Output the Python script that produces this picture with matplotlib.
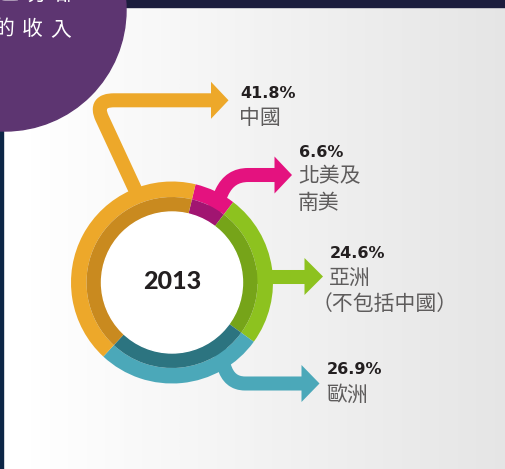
import matplotlib
matplotlib.use("Agg")
import matplotlib.pyplot as plt
import numpy as np
from matplotlib.path import Path
from matplotlib.patches import PathPatch, Polygon, Circle, Rectangle

W, H = 505, 469

# data
year = "2013"
shares = [6.6, 24.6, 26.9, 41.8]
regions = ["北美及\n南美", "亞洲\n（不包括中國）", "歐洲", "中國"]
outer_colors = ["#E4127F", "#8DC21F", "#4BA8B9", "#EDA82A"]
inner_colors = ["#A11571", "#76A419", "#2C7480", "#C98A1F"]
title_lines = ["區分部", "的收入"]

CJK = ["Noto Sans CJK TC", "DejaVu Sans"]
CX, CY = 172, 282.5


def P(x, y):
    # pixel coords (top-left origin) -> data coords
    return (x, H - y)


fig = plt.figure(figsize=(W / 100, H / 100), dpi=100)
ax = fig.add_axes([0, 0, 1, 1])

# background panel: white on the left fading to light grey
grad = np.linspace(0, 1, 256)
grad = np.clip((grad - 0.06) / 0.94, 0, 1)
bg = np.ones((2, 256, 3)) * (1 - 0.10 * grad)[None, :, None]
ax.imshow(bg, extent=(0, W, 0, H), aspect="auto", zorder=-2)
ax.add_patch(Rectangle((0, H - 7), W, 7, color="#1b1d3d", zorder=-1))
ax.add_patch(Rectangle((0, 0), 3, H, color="#0c2646", zorder=-1))

# arrows (shaft paths + heads), drawn under the ring
arrow_shafts = [
    [P(214, 210), P(222, 192), P(230, 175), P(248, 175), P(275, 175)],
    [P(255, 276.5), P(305, 276.5)],
    [P(220, 350), P(224, 366), P(229, 383.5), P(245, 383.5), P(302, 383.5)],
    [P(140, 200), P(102, 118), P(94, 100.3), P(114, 100.3), P(212, 100.3)],
]
shaft_codes = [
    [Path.MOVETO, Path.LINETO, Path.CURVE3, Path.CURVE3, Path.LINETO],
    [Path.MOVETO, Path.LINETO],
    [Path.MOVETO, Path.LINETO, Path.CURVE3, Path.CURVE3, Path.LINETO],
    [Path.MOVETO, Path.LINETO, Path.CURVE3, Path.CURVE3, Path.LINETO],
]
heads = [(275, 292, 175), (305, 323, 276.5), (302, 319.5, 383.5), (211.5, 228.5, 100.3)]
for verts, codes, (hx0, hx1, hy), col in zip(arrow_shafts, shaft_codes, heads, outer_colors):
    ax.add_patch(PathPatch(Path(verts, codes), facecolor="none", edgecolor=col,
                           lw=10.1, capstyle="butt", joinstyle="round", zorder=0))
    ax.add_patch(Polygon([P(hx0 - 0.5, hy - 18.5), P(hx1, hy), P(hx0 - 0.5, hy + 18.5)],
                         closed=True, facecolor=col, edgecolor="none", zorder=0))

# the two-tone ring
ax.pie(shares, colors=outer_colors, radius=101, center=P(CX, CY), startangle=76.5,
       counterclock=False, wedgeprops=dict(width=15.5, linewidth=0), frame=False)
ax.pie(shares, colors=inner_colors, radius=85.5, center=P(CX, CY), startangle=76.5,
       counterclock=False, wedgeprops=dict(width=15.5, linewidth=0), frame=False)
ax.add_patch(Circle(P(CX, CY), 70.5, color="white", zorder=3))
ax.text(*P(CX + 0.5, CY - 1), year, ha="center", va="center", fontsize=18,
        fontweight="black", family="Lato", color="#231f20", zorder=4)

# labels
label_pos = [(299, 152), (330, 253.5), (327, 370), (240, 93.5)]
for share, name, (lx, ly) in zip(shares, regions, label_pos):
    ax.text(*P(lx, ly), f"{share}%", ha="left", va="center", fontsize=11.5,
            fontweight="bold", family="DejaVu Sans", color="#231f20")
    for i, line in enumerate(name.split("\n")):
        dx = -17 if line.startswith("（") else 0
        ax.text(*P(lx - 1 + dx, ly + 24.5 + 26 * i), line, ha="left", va="center",
                fontsize=15, family=CJK, color="#5e5c5c")

# purple title disc in the corner
ax.add_patch(Circle(P(5, 10), 121, color="#5D3571", zorder=5))
for row, line in enumerate(title_lines):
    for k, ch in enumerate(line):
        x0 = 8 if row == 0 else 4
        ax.text(*P(x0 + 28.5 * k, -6 + 35 * row), ch, ha="center", va="center",
                fontsize=15, family=CJK, color="white", zorder=6)

ax.set_xlim(0, W)
ax.set_ylim(0, H)
ax.axis("off")
fig.savefig("out.png", dpi=100)
